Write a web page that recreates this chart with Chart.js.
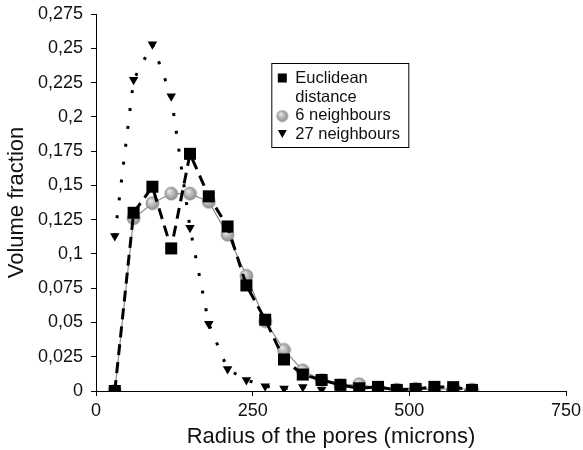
<!DOCTYPE html>
<html>
<head>
<meta charset="utf-8">
<script src="https://cdn.jsdelivr.net/npm/chart.js@4/dist/chart.umd.min.js"></script>
<style>
    html, body { margin: 0; padding: 0; background: #fff; }
    #wrap { width: 583px; height: 450px; }
</style>
</head>
<body>
<div id="wrap"><canvas id="chart" width="583" height="450"></canvas></div>
<script>
// radius of the pores (microns)
var radius = [30, 60, 90, 120, 150, 180, 210, 240, 270, 300, 330, 360, 390, 420, 450, 480, 510, 540, 570, 600];

// volume fraction for each method
var euclidean = [0, 0.130, 0.149, 0.104, 0.173, 0.142, 0.120, 0.077, 0.052, 0.023, 0.012, 0.008, 0.0045, 0.002, 0.003, 0.0008, 0.0015, 0.003, 0.0028, 0.0008];
var neighbours6 = [0, 0.126, 0.137, 0.144, 0.144, 0.138, 0.114, 0.084, 0.051, 0.030, 0.015, 0.008, 0.004, 0.005, 0.002, 0.001, 0.0015, 0.001, 0.002, 0.001];
var neighbours27 = [0.113, 0.227, 0.253, 0.215, 0.119, 0.049, 0.016, 0.008, 0.0035, 0.0018, 0.003, 0.001, 0.0008, 0.0005, 0.0005, 0.0004, 0.0004, 0.0003, 0.0003, 0.0003];

var seriesNames = ['Euclidean distance', '6 neighbours', '27 neighbours'];

var xTicks = [0, 250, 500, 750];
var yTickLabels = ['0', '0,025', '0,05', '0,075', '0,1', '0,125', '0,15', '0,175', '0,2', '0,225', '0,25', '0,275'];

var FONT = '"Liberation Sans", Arial, Helvetica, sans-serif';

// little grey sphere used as marker for the 6 neighbours series
function makeSphere(r) {
    var c = document.createElement('canvas');
    c.width = r * 2 + 2;
    c.height = r * 2 + 2;
    var g = c.getContext('2d');
    var cx = r + 1, cy = r + 1;
    var grad = g.createRadialGradient(cx - r * 0.35, cy - r * 0.4, r * 0.1, cx, cy, r);
    grad.addColorStop(0, '#e6e6e6');
    grad.addColorStop(0.6, '#b0b0b0');
    grad.addColorStop(1, '#8a8a8a');
    g.beginPath();
    g.arc(cx, cy, r, 0, Math.PI * 2);
    g.fillStyle = grad;
    g.fill();
    g.lineWidth = 0.6;
    g.strokeStyle = '#888';
    g.stroke();
    return c;
}

var sphere = makeSphere(6.5);
var sphereSmall = makeSphere(5.5);

function toPoints(xs, ys) {
    return xs.map(function (x, i) { return { x: x, y: ys[i] }; });
}

// legend drawn inside the plot, like the original figure
var boxLegend = {
    id: 'boxLegend',
    afterDraw: function (chart) {
        var ctx = chart.ctx;
        var area = chart.chartArea;
        var left = area.left + (area.right - area.left) * 0.373;
        var top = area.top + 49;
        var w = 137, h = 84;
        ctx.save();
        ctx.fillStyle = '#fff';
        ctx.fillRect(left, top, w, h);
        ctx.strokeStyle = '#000';
        ctx.lineWidth = 1;
        ctx.strokeRect(left + 0.5, top + 0.5, w, h);

        ctx.font = '16.5px ' + FONT;
        ctx.fillStyle = '#111';
        ctx.textBaseline = 'middle';
        var tx = left + 24, mx = left + 11;
        var words = seriesNames[0].split(' ');
        ctx.fillText(words[0], tx, top + 15);
        ctx.fillText(words[1], tx, top + 34);
        ctx.fillText(seriesNames[1], tx, top + 52);
        ctx.fillText(seriesNames[2], tx, top + 71);

        ctx.fillStyle = '#000';
        ctx.fillRect(mx - 4.5, top + 15 - 4.5, 9, 9);
        ctx.drawImage(sphereSmall, mx - sphereSmall.width / 2, top + 53 - sphereSmall.height / 2);
        ctx.beginPath();
        ctx.moveTo(mx - 4.5, top + 67);
        ctx.lineTo(mx + 4.5, top + 67);
        ctx.lineTo(mx, top + 75);
        ctx.closePath();
        ctx.fill();
        ctx.restore();
    }
};

var ctx = document.getElementById('chart');

new Chart(ctx, {
    type: 'line',
    data: {
        datasets: [{
            label: seriesNames[0],
            data: toPoints(radius, euclidean),
            borderColor: '#000',
            borderWidth: 3,
            borderDash: [11, 7],
            pointStyle: 'rect',
            pointRadius: 8.5,
            pointBackgroundColor: '#000',
            pointBorderColor: '#000',
            pointBorderWidth: 0
        }, {
            label: seriesNames[1],
            data: toPoints(radius, neighbours6),
            borderColor: '#8c8c8c',
            borderWidth: 1.2,
            pointStyle: sphere,
            pointRadius: 6.5
        }, {
            label: seriesNames[2],
            data: toPoints(radius, neighbours27),
            borderColor: '#000',
            borderWidth: 3,
            borderDash: [3, 15],
            pointStyle: 'triangle',
            pointRotation: 180,
            pointRadius: 5.5,
            pointBackgroundColor: '#000',
            pointBorderColor: '#000',
            pointBorderWidth: 0
        }]
    },
    options: {
        responsive: false,
        animation: false,
        tension: 0,
        layout: {
            padding: { top: 14, right: 17, left: 0, bottom: 0 }
        },
        plugins: {
            legend: { display: false },
            tooltip: { enabled: false }
        },
        scales: {
            x: {
                type: 'linear',
                min: 0,
                max: 750,
                afterBuildTicks: function (scale) {
                    scale.ticks = xTicks.map(function (v) { return { value: v }; });
                },
                grid: { drawOnChartArea: false, drawTicks: true, tickLength: 5, color: '#000' },
                border: { color: '#000', width: 1 },
                ticks: { color: '#111', font: { family: FONT, size: 18 }, padding: 4, maxRotation: 0 },
                title: {
                    display: true,
                    text: 'Radius of the pores (microns)',
                    color: '#111',
                    font: { family: FONT, size: 22 },
                    padding: { top: 0, bottom: 0 }
                },
                afterFit: function (scale) {
                    scale.height = 59;
                    scale.paddingLeft = 0;
                    scale.paddingRight = 0;
                }
            },
            y: {
                type: 'linear',
                min: 0,
                max: 0.275,
                ticks: {
                    stepSize: 0.025,
                    color: '#111',
                    font: { family: FONT, size: 18 },
                    padding: 8,
                    callback: function (value, index) { return yTickLabels[index]; }
                },
                grid: { drawOnChartArea: false, drawTicks: true, tickLength: 5, color: '#000' },
                border: { color: '#000', width: 1 },
                title: {
                    display: true,
                    text: 'Volume fraction',
                    color: '#111',
                    font: { family: FONT, size: 22 },
                    padding: { top: 4, bottom: 0 }
                },
                afterFit: function (scale) {
                    scale.width = 96;
                    scale.paddingTop = 0;
                    scale.paddingBottom = 0;
                }
            }
        }
    },
    plugins: [boxLegend]
});
</script>
</body>
</html>
